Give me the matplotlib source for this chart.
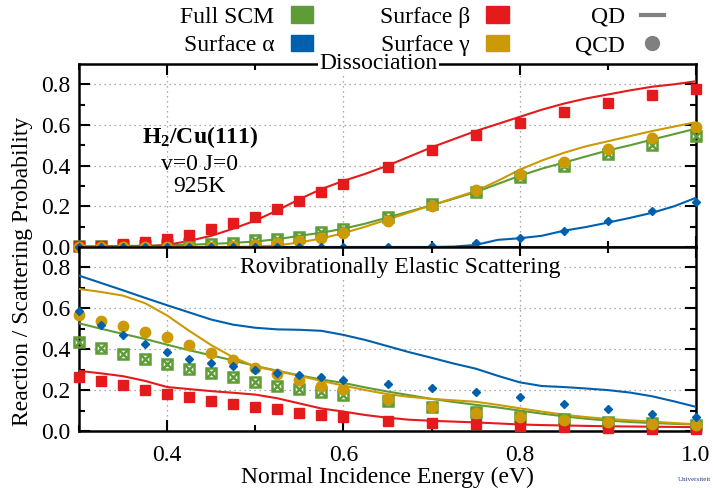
import numpy as np
import matplotlib.pyplot as plt
from matplotlib.lines import Line2D
from matplotlib.patches import Patch

plt.rcParams['font.family'] = ['Liberation Serif', 'DejaVu Serif']
plt.rcParams['mathtext.fontset'] = 'custom'
plt.rcParams['mathtext.rm'] = 'Liberation Serif'
plt.rcParams['mathtext.bf'] = 'Liberation Serif:bold'
plt.rcParams['font.size'] = 17

# QCD points
E_pts = [0.3, 0.325, 0.35, 0.375, 0.4, 0.425, 0.45, 0.475, 0.5, 0.525, 0.55,
         0.575, 0.6, 0.65, 0.7, 0.75, 0.8, 0.85, 0.9, 0.95, 1.0]

diss_scm_qcd = [0.005, 0.005, 0.006, 0.007, 0.01, 0.013, 0.017, 0.021, 0.032, 0.04, 0.051,
                0.072, 0.089, 0.148, 0.209, 0.27, 0.344, 0.40, 0.456, 0.50, 0.547]
diss_a_qcd = [0.0, 0.0, 0.0, 0.0, 0.0, 0.0, 0.0, 0.0, 0.0, 0.0, 0.0,
              0.0, 0.0, 0.0, 0.004, 0.02, 0.045, 0.08, 0.128, 0.178, 0.22]
diss_b_qcd = [0.003, 0.006, 0.013, 0.025, 0.038, 0.059, 0.087, 0.117, 0.147, 0.186, 0.227,
              0.27, 0.311, 0.395, 0.475, 0.55, 0.61, 0.665, 0.71, 0.745, 0.775]
diss_g_qcd = [0.0, 0.0, 0.0, 0.0, 0.0, 0.0, 0.0, 0.003, 0.008, 0.02, 0.028,
              0.046, 0.068, 0.13, 0.20, 0.278, 0.36, 0.42, 0.484, 0.538, 0.59]

scat_scm_qcd = [0.435, 0.406, 0.376, 0.352, 0.327, 0.304, 0.283, 0.262, 0.239, 0.221, 0.206,
                0.193, 0.177, 0.147, 0.116, 0.095, 0.07, 0.059, 0.046, 0.038, 0.029]
scat_a_qcd = [0.586, 0.52, 0.468, 0.424, 0.384, 0.352, 0.334, 0.319, 0.30, 0.286, 0.273,
              0.263, 0.25, 0.229, 0.209, 0.191, 0.164, 0.131, 0.108, 0.083, 0.067]
scat_b_qcd = [0.264, 0.245, 0.226, 0.201, 0.182, 0.165, 0.147, 0.131, 0.116, 0.108, 0.088,
              0.078, 0.069, 0.051, 0.038, 0.033, 0.025, 0.018, 0.013, 0.01, 0.008]
scat_g_qcd = [0.566, 0.54, 0.512, 0.486, 0.458, 0.422, 0.381, 0.345, 0.308, 0.281, 0.25,
              0.222, 0.205, 0.157, 0.116, 0.087, 0.067, 0.054, 0.043, 0.034, 0.029]

# QD curves
E_line = [0.3, 0.325, 0.35, 0.375, 0.4, 0.425, 0.45, 0.475, 0.5, 0.525, 0.55, 0.575,
          0.6, 0.625, 0.65, 0.675, 0.7, 0.725, 0.75, 0.775, 0.8, 0.825, 0.85, 0.875,
          0.9, 0.925, 0.95, 0.975, 1.0]

diss_scm_qd = [0.003, 0.004, 0.005, 0.006, 0.008, 0.011, 0.015, 0.02, 0.027, 0.038, 0.055, 0.07,
               0.09, 0.115, 0.145, 0.175, 0.205, 0.237, 0.27, 0.31, 0.35, 0.385, 0.415, 0.445,
               0.475, 0.50, 0.528, 0.555, 0.582]
diss_a_qd = [0.0, 0.0, 0.0, 0.0, 0.0, 0.0, 0.0, 0.0, 0.0, 0.0, 0.0, 0.0,
             0.0, 0.0, 0.0, 0.0, 0.0, 0.002, 0.01, 0.035, 0.043, 0.055, 0.08, 0.098,
             0.12, 0.143, 0.168, 0.2, 0.242]
diss_b_qd = [0.0, 0.0, 0.001, 0.003, 0.01, 0.03, 0.055, 0.09, 0.13, 0.18, 0.235, 0.285,
             0.325, 0.36, 0.40, 0.445, 0.49, 0.53, 0.57, 0.605, 0.64, 0.675, 0.705, 0.73,
             0.75, 0.77, 0.788, 0.80, 0.815]
diss_g_qd = [0.0, 0.0, 0.0, 0.0, 0.0, 0.0, 0.0, 0.0, 0.002, 0.008, 0.022, 0.042,
             0.068, 0.1, 0.135, 0.17, 0.205, 0.24, 0.275, 0.325, 0.38, 0.425, 0.463, 0.495,
             0.52, 0.545, 0.57, 0.592, 0.614]

scat_scm_qd = [0.527, 0.50, 0.475, 0.45, 0.422, 0.395, 0.37, 0.345, 0.318, 0.295, 0.272, 0.252,
               0.235, 0.213, 0.193, 0.175, 0.157, 0.142, 0.128, 0.115, 0.1, 0.085, 0.072, 0.06,
               0.051, 0.044, 0.039, 0.035, 0.032]
scat_a_qd = [0.76, 0.724, 0.688, 0.651, 0.615, 0.58, 0.545, 0.52, 0.505, 0.497, 0.495, 0.49,
             0.47, 0.445, 0.415, 0.385, 0.358, 0.33, 0.305, 0.27, 0.238, 0.22, 0.215, 0.208,
             0.2, 0.188, 0.17, 0.145, 0.118]
scat_b_qd = [0.294, 0.282, 0.268, 0.245, 0.215, 0.205, 0.195, 0.187, 0.178, 0.16, 0.135, 0.11,
             0.095, 0.078, 0.065, 0.055, 0.05, 0.046, 0.042, 0.037, 0.032, 0.029, 0.027, 0.025,
             0.023, 0.022, 0.021, 0.02, 0.019]
scat_g_qd = [0.695, 0.68, 0.662, 0.625, 0.565, 0.49, 0.42, 0.36, 0.315, 0.293, 0.27, 0.245,
             0.222, 0.2, 0.18, 0.167, 0.157, 0.15, 0.143, 0.128, 0.111, 0.095, 0.08, 0.068,
             0.059, 0.052, 0.046, 0.039, 0.033]

c_scm = '#5e9c36'
c_a = '#0060ad'
c_b = '#e41a1c'
c_g = '#cc9a06'


def style_axes(ax, xlabels):
    ax.set_xlim(0.3, 1.0)
    ax.set_ylim(0, 0.9)
    ax.set_xticks([0.4, 0.6, 0.8, 1.0])
    ax.set_xticks([0.3, 0.5, 0.7, 0.9], minor=True)
    ax.set_yticks([0.0, 0.2, 0.4, 0.6, 0.8])
    ax.set_yticks([0.1, 0.3, 0.5, 0.7], minor=True)
    ax.set_yticklabels(['0.0', '0.2', '0.4', '0.6', '0.8'])
    if xlabels:
        ax.set_xticklabels(['0.4', '0.6', '0.8', '1.0'])
    else:
        ax.set_xticklabels([])
    ax.tick_params(which='both', direction='in', top=True, right=True, width=1.5)
    ax.tick_params(which='major', length=8, pad=6)
    ax.tick_params(axis='x', which='major', pad=10)
    ax.tick_params(which='minor', length=4)
    ax.grid(True, which='major', linestyle=(0, (1, 3)), color='#909090', lw=0.9)
    for s in ax.spines.values():
        s.set_linewidth(1.8)


def draw(ax, qd, qcd):
    for y, c in zip(qd, [c_scm, c_a, c_b, c_g]):
        ax.plot(E_line, y, color=c, lw=1.5, zorder=3)
    scm, a, b, g = qcd
    ax.plot(E_pts, scm, ls='none', marker='s', ms=6.5, mfc='none', mec=c_scm, mew=1.8, clip_on=False, zorder=4)
    ax.plot(E_pts, scm, ls='none', marker='x', ms=6.5, mec=c_scm, mew=1.8, clip_on=False, zorder=4)
    ax.plot(E_pts, b, ls='none', marker='s', ms=7.5, color=c_b, clip_on=False, zorder=4)
    ax.plot(E_pts, g, ls='none', marker='o', ms=7.5, color=c_g, clip_on=False, zorder=4)
    ax.plot(E_pts, a, ls='none', marker='D', ms=4.5, color=c_a, clip_on=False, zorder=5)


fig = plt.figure(figsize=(7.13, 4.88), dpi=100)
ax1 = fig.add_axes([0.1108, 0.4939, 0.8654, 0.375])
ax2 = fig.add_axes([0.1108, 0.1168, 0.8654, 0.3771])

style_axes(ax1, False)
style_axes(ax2, True)

draw(ax1, [diss_scm_qd, diss_a_qd, diss_b_qd, diss_g_qd],
     [diss_scm_qcd, diss_a_qcd, diss_b_qcd, diss_g_qcd])
draw(ax2, [scat_scm_qd, scat_a_qd, scat_b_qd, scat_g_qd],
     [scat_scm_qcd, scat_a_qcd, scat_b_qcd, scat_g_qcd])

ax1.text(0.64, 0.9, 'Dissociation', ha='center', va='center', zorder=10,
         bbox=dict(facecolor='white', edgecolor='none', pad=1))
ax2.text(0.664, 0.80, 'Rovibrationally Elastic Scattering', ha='center', va='center', zorder=10,
         bbox=dict(facecolor='white', edgecolor='none', pad=1))
ax1.text(0.437, 0.54, r'$\mathbf{H_2/Cu(111)}$', ha='center', va='center')
ax1.text(0.437, 0.405, 'v=0 J=0', ha='center', va='center')
ax1.text(0.437, 0.295, '925K', ha='center', va='center')

ax2.set_xlabel('Normal Incidence Energy (eV)', labelpad=1)
fig.text(0.031, 0.443, 'Reaction / Scattering Probability', rotation=90, ha='center', va='center')

handles = [Patch(color=c_scm), Patch(color=c_a), Patch(color=c_b), Patch(color=c_g),
           Line2D([], [], color='#808080', lw=3),
           Line2D([], [], color='#808080', ls='none', marker='o', ms=10)]
labels = ['Full SCM', 'Surface α', 'Surface β', 'Surface γ', 'QD', 'QCD']
fig.legend(handles, labels, ncol=3, markerfirst=False, frameon=False, loc='center',
           bbox_to_anchor=(0.592, 0.936), handlelength=0.95, handleheight=0.7,
           handletextpad=0.7, columnspacing=2.8, labelspacing=0.28, borderpad=0)

fig.text(0.998, 0.012, 'Universiteit', fontsize=5, color='#1f3c88', ha='right', va='bottom')

fig.savefig('out.png', dpi=100)
